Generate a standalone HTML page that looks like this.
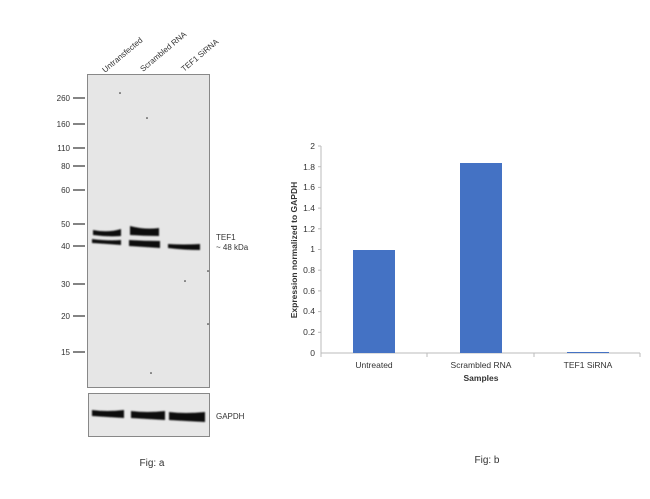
<!DOCTYPE html>
<html><head><style>
body{margin:0;background:#fff;width:650px;height:494px;overflow:hidden;font-family:"Liberation Sans",sans-serif}
</style></head><body>
<svg width="650" height="494" xmlns="http://www.w3.org/2000/svg" font-family="Liberation Sans, sans-serif">
<defs><filter id="b"><feGaussianBlur stdDeviation="0.7"/></filter></defs>
<!-- blot -->
<rect x="87.5" y="74.5" width="122" height="313" fill="#e6e6e6" stroke="#888" stroke-width="1"/>
<rect x="88.5" y="393.5" width="121" height="43" fill="#e8e8e8" stroke="#888" stroke-width="1"/>
<g font-size="8" fill="#333" text-anchor="end">
<text x="70" y="101">260</text><text x="70" y="127">160</text><text x="70" y="151">110</text>
<text x="70" y="169">80</text><text x="70" y="193">60</text><text x="70" y="227">50</text>
<text x="70" y="249">40</text><text x="70" y="287">30</text><text x="70" y="319">20</text><text x="70" y="355">15</text>
</g>
<g stroke="#333" stroke-width="1.2">
<line x1="73" x2="85" y1="98" y2="98"/><line x1="73" x2="85" y1="124" y2="124"/><line x1="73" x2="85" y1="148" y2="148"/>
<line x1="73" x2="85" y1="166" y2="166"/><line x1="73" x2="85" y1="190" y2="190"/><line x1="73" x2="85" y1="224" y2="224"/>
<line x1="73" x2="85" y1="246" y2="246"/><line x1="73" x2="85" y1="284" y2="284"/><line x1="73" x2="85" y1="316" y2="316"/><line x1="73" x2="85" y1="352" y2="352"/>
</g>
<g font-size="8" fill="#333">
<text transform="translate(105,73) rotate(-40)">Untransfected</text>
<text transform="translate(143,72) rotate(-40)">Scrambled RNA</text>
<text transform="translate(184,72) rotate(-40)">TEF1 SiRNA</text>
<text x="216" y="240">TEF1</text><text x="216" y="250">~ 48 kDa</text>
<text x="216" y="419">GAPDH</text>
</g>
<g filter="url(#b)" fill="#111">
<path d="M93 230 Q108 233 121 229 L121 236 Q108 237 93 235Z"/>
<path d="M92 239 Q108 241 121 240 L121 245 Q108 244 92 243Z"/>
<path d="M130 226 Q145 230 159 228 L159 236 Q145 236 130 235Z"/>
<path d="M129 240 Q145 241 160 241 L160 248 Q145 247 129 246Z"/>
<path d="M168 244 Q184 245 200 244 L200 250 Q184 250 168 248Z"/>
<path d="M92 410 Q107 412 124 410 L124 418 Q107 417 92 416Z"/>
<path d="M131 411 Q147 413 165 411 L165 420 Q147 419 131 418Z"/>
<path d="M169 412 Q185 414 205 412 L205 422 Q185 421 169 420Z"/>
</g>
<g fill="#222"><circle cx="120" cy="93" r="0.8"/><circle cx="147" cy="118" r="0.8"/><circle cx="185" cy="281" r="0.8"/><circle cx="151" cy="373" r="0.8"/><circle cx="208" cy="324" r="0.8"/><circle cx="208" cy="271" r="0.8"/></g>
<text x="152" y="466" font-size="10" fill="#333" text-anchor="middle">Fig: a</text>
<text x="487" y="463" font-size="10" fill="#333" text-anchor="middle">Fig: b</text>
<!-- chart -->
<g stroke="#bbb" stroke-width="1">
<line x1="321" y1="146" x2="321" y2="353"/><line x1="321" y1="353" x2="640" y2="353"/>
<line x1="321" y1="353" x2="321" y2="357"/><line x1="427" y1="353" x2="427" y2="357"/><line x1="534" y1="353" x2="534" y2="357"/><line x1="640" y1="353" x2="640" y2="357"/>
</g>
<g stroke="#bbb"><line x1="318" x2="321" y1="146" y2="146"/><line x1="318" x2="321" y1="166.7" y2="166.7"/><line x1="318" x2="321" y1="187.4" y2="187.4"/><line x1="318" x2="321" y1="208.1" y2="208.1"/><line x1="318" x2="321" y1="228.8" y2="228.8"/><line x1="318" x2="321" y1="249.5" y2="249.5"/><line x1="318" x2="321" y1="270.2" y2="270.2"/><line x1="318" x2="321" y1="290.9" y2="290.9"/><line x1="318" x2="321" y1="311.6" y2="311.6"/><line x1="318" x2="321" y1="332.3" y2="332.3"/></g>
<g font-size="8.5" fill="#333" text-anchor="end">
<text x="315" y="149">2</text><text x="315" y="170">1.8</text><text x="315" y="190">1.6</text><text x="315" y="211">1.4</text>
<text x="315" y="232">1.2</text><text x="315" y="252">1</text><text x="315" y="273">0.8</text><text x="315" y="294">0.6</text>
<text x="315" y="314">0.4</text><text x="315" y="335">0.2</text><text x="315" y="356">0</text>
</g>
<rect x="353" y="250" width="42" height="103" fill="#4472c4"/>
<rect x="460" y="163" width="42" height="190" fill="#4472c4"/>
<rect x="567" y="352" width="42" height="1" fill="#4472c4"/>
<g font-size="8.5" fill="#333" text-anchor="middle">
<text x="374" y="368">Untreated</text><text x="481" y="368">Scrambled RNA</text><text x="588" y="368">TEF1 SiRNA</text>
<text x="481" y="381" font-weight="bold">Samples</text>
<text transform="translate(297,250) rotate(-90)" font-weight="bold">Expression normalized to GAPDH</text>
</g>
</svg>
</body></html>
